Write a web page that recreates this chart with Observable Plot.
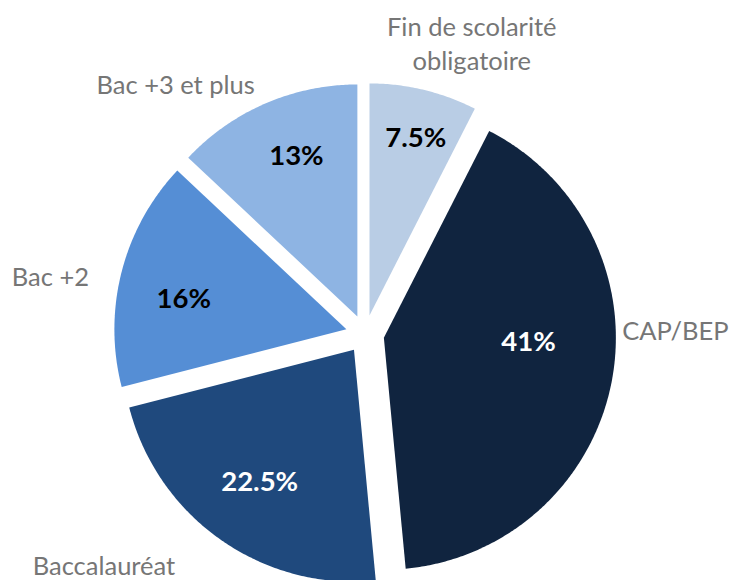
<!DOCTYPE html>
<html>
<head>
<meta charset="utf-8">
<script src="https://cdn.jsdelivr.net/npm/d3@7"></script>
<script src="https://cdn.jsdelivr.net/npm/@observablehq/plot@0.6"></script>
<style>
  html, body { margin: 0; padding: 0; background: #fff; }
  #chart svg { display: block; }
</style>
</head>
<body>
<div id="chart"></div>
<script>
// ---- Data ----
const categories = ["Fin de scolarité\nobligatoire", "CAP/BEP", "Baccalauréat", "Bac +2", "Bac +3 et plus"];
const shares = [7.5, 41, 22.5, 16, 13];
const valueLabels = ["7.5%", "41%", "22.5%", "16%", "13%"];
const sliceColors = ["#B9CDE5", "#10243F", "#1F497D", "#558ED5", "#8EB4E3"];
const innerTextColors = ["#000000", "#ffffff", "#ffffff", "#000000", "#000000"];

// ---- Layout (geometry of the exploded pie, in units of the radius) ----
const W = 736, H = 580;
const R = 232;                 // radius in px
const CX = 364.5, CY = 333.6;  // pie centre in px
const explode = 19.2 / R;      // slice offset
// label placement: [angle (deg, clockwise from top), distance in radii]
const innerPlace = [[14.6, 0.79], [91.9, 0.624], [215.5, 0.70], [280.4, 0.713], [339.2, 0.74]];
const outerPlace = [[20.1, 1.339], [89.2, 1.338], [228.6, 1.50], [280.5, 1.379], [322.9, 1.353]];

const arcs = d3.pie().sort(null).value(d => d)(shares);

const polyPts = [];
const innerLabels = [];
const outerLabels = [];
arcs.forEach((a, i) => {
  const mid = (a.startAngle + a.endAngle) / 2;
  const ox = explode * Math.sin(mid), oy = explode * Math.cos(mid);
  const key = categories[i];
  polyPts.push({key, x: ox, y: oy});
  const n = Math.max(8, Math.ceil((a.endAngle - a.startAngle) / (Math.PI / 360)));
  for (let k = 0; k <= n; k++) {
    const t = a.startAngle + (a.endAngle - a.startAngle) * k / n;
    polyPts.push({key, x: ox + Math.sin(t), y: oy + Math.cos(t)});
  }
  const [ia, id] = innerPlace[i];
  const ir = ia * Math.PI / 180;
  innerLabels.push({text: valueLabels[i], color: innerTextColors[i],
    x: ox + id * Math.sin(ir), y: oy + id * Math.cos(ir)});
  const [oa, od] = outerPlace[i];
  const orr = oa * Math.PI / 180;
  outerLabels.push({text: key, x: od * Math.sin(orr), y: od * Math.cos(orr)});
});

const chart = Plot.plot({
  width: W,
  height: H,
  margin: 0,
  style: {fontFamily: "Lato, 'Open Sans', sans-serif", background: "#fff"},
  x: {domain: [-CX / R, (W - CX) / R], axis: null},
  y: {domain: [(CY - H) / R, CY / R], axis: null},
  color: {domain: categories, range: sliceColors},
  marks: [
    Plot.line(polyPts, {x: "x", y: "y", z: "key", fill: "key", stroke: "none", curve: "linear-closed"}),
    Plot.text(innerLabels, {x: "x", y: "y", text: "text", fill: d => d.color, fontSize: 27.5, fontWeight: "bold"}),
    Plot.text(outerLabels, {x: "x", y: "y", text: "text", fill: "#767676", fontSize: 25.5, lineHeight: 1.3})
  ]
});
document.getElementById("chart").appendChild(chart);
</script>
</body>
</html>
